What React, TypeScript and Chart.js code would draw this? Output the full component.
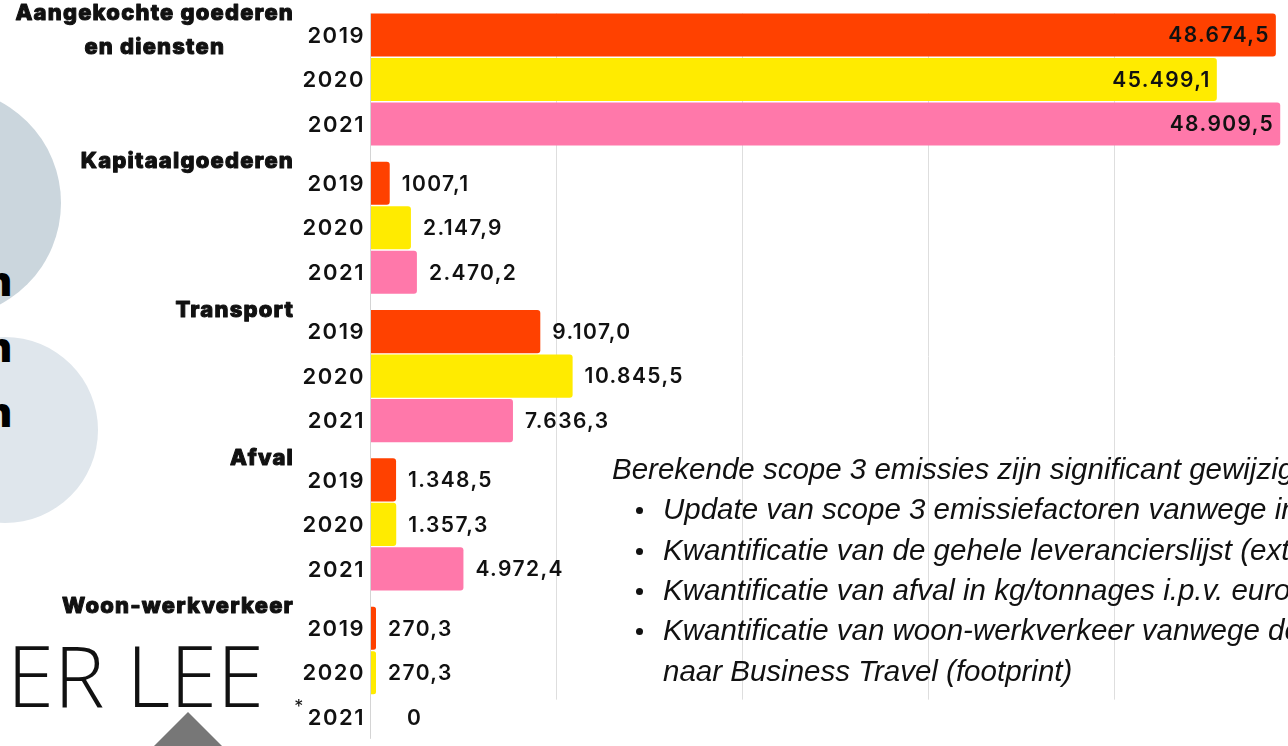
import React, { useEffect, useRef } from "react";
import { Chart, registerables } from "chart.js";

Chart.register(...registerables);

const categories: string[][] = [
  ["Aangekochte goederen", "en diensten"],
  ["Kapitaalgoederen"],
  ["Transport"],
  ["Afval"],
  ["Woon-werkverkeer"],
];
const years = ["2019", "2020", "2021"];
const values2019 = [48674.5, 1007.1, 9107.0, 1348.5, 270.3];
const values2020 = [45499.1, 2147.9, 10845.5, 1357.3, 270.3];
const values2021 = [48909.5, 2470.2, 7636.3, 4972.4, 0];
const labels2019 = ["48.674,5", "1007,1", "9.107,0", "1.348,5", "270,3"];
const labels2020 = ["45.499,1", "2.147,9", "10.845,5", "1.357,3", "270,3"];
const labels2021 = ["48.909,5", "2.470,2", "7.636,3", "4.972,4", "0"];
const footnote2021 = ["", "", "", "", "*"];
const xMin = 0;
const xMax = 50000;
const xStep = 10000;

const noteTitle = "Berekende scope 3 emissies zijn significant gewijzigd door:";
const noteBullets: string[][] = [
  ["Update van scope 3 emissiefactoren vanwege inflatie"],
  ["Kwantificatie van de gehele leverancierslijst (extra leveranciers)"],
  ["Kwantificatie van afval in kg/tonnages i.p.v. euro's"],
  ["Kwantificatie van woon-werkverkeer vanwege de verschuiving", "naar Business Travel (footprint)"],
];

const COLORS = ["#FF4100", "#FFEB00", "#FF78AA"];
const NUM_FONT = "Inter, 'Noto Sans', sans-serif";

const valueLabels = [labels2019, labels2020, labels2021];

const overlayPlugin = {
  id: "overlay",
  beforeDatasetsDraw(chart: any) {
    const ctx = chart.ctx;
    const metas = [0, 1, 2].map((i) => chart.getDatasetMeta(i));
    const first = metas[0].data[0];
    const last = metas[2].data[metas[2].data.length - 1];
    const top = first.y - first.height / 2;
    const gridBottom = last.y - last.height / 2 + 4;
    const axisBottom = last.y + last.height / 2;
    const xs = chart.scales.x;
    ctx.save();
    ctx.lineWidth = 1;
    ctx.strokeStyle = "#dedede";
    xs.ticks.forEach((t: any) => {
      if (t.value === 0) return;
      const px = Math.floor(xs.getPixelForValue(t.value)) + 0.5;
      ctx.beginPath();
      ctx.moveTo(px, top);
      ctx.lineTo(px, gridBottom);
      ctx.stroke();
    });
    const ax = Math.floor(xs.getPixelForValue(0)) - 0.5;
    ctx.strokeStyle = "#d4d4d4";
    ctx.beginPath();
    ctx.moveTo(ax, top);
    ctx.lineTo(ax, axisBottom);
    ctx.stroke();
    ctx.restore();
  },
  afterDatasetsDraw(chart: any) {
    const ctx = chart.ctx;
    const metas = [0, 1, 2].map((i) => chart.getDatasetMeta(i));
    const left = chart.chartArea.left;
    ctx.save();
    ctx.fillStyle = "#111";
    ctx.strokeStyle = "#111";
    ctx.lineJoin = "round";
    ctx.textBaseline = "middle";

    // year labels
    ctx.font = `600 22px ${NUM_FONT}`;
    (ctx as any).letterSpacing = "1.5px";
    ctx.textAlign = "right";
    categories.forEach((_, j) => {
      metas.forEach((m, i) => {
        const bar = m.data[j];
        const x = left - 6;
        ctx.fillText(years[i], x, bar.y + 1);
        if (i === 2 && footnote2021[j]) {
          const w = ctx.measureText(years[i]).width;
          ctx.save();
          ctx.font = `400 18px ${NUM_FONT}`;
          ctx.fillText(footnote2021[j], x - w - 3, bar.y - 10);
          ctx.restore();
        }
      });
    });

    // value labels
    ctx.font = `600 21px ${NUM_FONT}`;
    (ctx as any).letterSpacing = "1.4px";
    metas.forEach((m, i) => {
      m.data.forEach((bar: any, j: number) => {
        const v = chart.data.datasets[i].data[j];
        const len = bar.x - bar.base;
        const label = valueLabels[i][j];
        let x: number;
        if (len > 400) {
          ctx.textAlign = "right";
          x = bar.x - 6;
        } else {
          ctx.textAlign = "left";
          x = bar.x + (v === 0 ? 36 : 12);
        }
        ctx.fillText(label, x, bar.y + 1);
      });
    });

    // group labels
    ctx.font = `800 22px ${NUM_FONT}`;
    (ctx as any).letterSpacing = "1.2px";
    ctx.textAlign = "center";
    ctx.lineWidth = 1;
    const right = left - 77;
    categories.forEach((lines, j) => {
      const bar = metas[0].data[j];
      const top = bar.y - bar.height / 2;
      const maxW = Math.max(...lines.map((l) => ctx.measureText(l).width));
      const cx = right - maxW / 2;
      lines.forEach((l, k) => {
        ctx.fillText(l, cx, top + k * 34);
        ctx.strokeText(l, cx, top + k * 34);
      });
    });
    (ctx as any).letterSpacing = "0px";
    ctx.restore();
  },
};

export default function App() {
  const ref = useRef<HTMLCanvasElement | null>(null);

  useEffect(() => {
    if (!ref.current) return;
    const W = 1320;
    const H = 760;
    const chart = new Chart(ref.current, {
      type: "bar",
      data: {
        labels: categories.map((c) => c.join(" ")),
        datasets: [values2019, values2020, values2021].map((d, i) => ({
          label: years[i],
          data: d,
          backgroundColor: COLORS[i],
          borderWidth: 0,
          borderRadius: 3,
          categoryPercentage: 0.9,
          barPercentage: 0.97,
        })),
      },
      options: {
        indexAxis: "y",
        responsive: false,
        maintainAspectRatio: false,
        animation: false,
        layout: {
          padding: { left: 371, top: 5.3, right: W - 1300.5, bottom: H - 746.9 },
        },
        scales: {
          x: {
            display: false,
            min: xMin,
            max: xMax,
            ticks: { stepSize: xStep },
          },
          y: { display: false },
        },
        plugins: {
          legend: { display: false },
          tooltip: { enabled: false },
        },
      },
      plugins: [overlayPlugin],
    });
    return () => chart.destroy();
  }, []);

  const lineH = 40.3;
  const noteTop = 449;
  return (
    <div
      style={{
        position: "fixed",
        left: 0,
        top: 0,
        width: 1288,
        height: 746,
        overflow: "hidden",
        background: "#fff",
      }}
    >
      <div style={{ position: "absolute", left: -169, top: 88, width: 230, height: 230, borderRadius: "50%", background: "#CBD6DD" }} />
      <div style={{ position: "absolute", left: -88, top: 337, width: 186, height: 186, borderRadius: "50%", background: "#DFE6EC" }} />
      {[260, 326, 391].map((t) => (
        <div
          key={t}
          style={{
            position: "absolute",
            left: -15,
            top: t,
            font: "800 41px 'Open Sans', sans-serif",
            lineHeight: "41px",
            color: "#000",
          }}
        >
          n
        </div>
      ))}
      <div
        style={{
          position: "absolute",
          right: 1288 - 264,
          top: 632,
          font: "330 85px 'Open Sans', sans-serif",
          lineHeight: "85px",
          color: "#111",
          whiteSpace: "nowrap",
        }}
      >
        ER LEE
      </div>
      <svg style={{ position: "absolute", left: 0, top: 0 }} width={1288} height={746}>
        <polygon points="188,712 226,750 150,750" fill="#777" />
      </svg>
      <canvas ref={ref} width={1320} height={760} style={{ position: "absolute", left: 0, top: 0, width: 1320, height: 760 }} />
      <div
        style={{
          position: "absolute",
          left: 612,
          top: noteTop,
          font: "italic 400 29.5px 'Liberation Sans', Arial, sans-serif",
          lineHeight: `${lineH}px`,
          color: "#111",
          whiteSpace: "nowrap",
        }}
      >
        {noteTitle}
      </div>
      {noteBullets.map((lines, i) => {
        const before = noteBullets.slice(0, i).reduce((a, l) => a + l.length, 0);
        return (
          <React.Fragment key={i}>
            <div
              style={{
                position: "absolute",
                left: 636,
                top: noteTop + (1 + before) * lineH + lineH / 2 - 2,
                width: 7,
                height: 7,
                borderRadius: "50%",
                background: "#111",
              }}
            />
            {lines.map((l, k) => (
              <div
                key={k}
                style={{
                  position: "absolute",
                  left: 663,
                  top: noteTop + (1 + before + k) * lineH,
                  font: "italic 400 29.5px 'Liberation Sans', Arial, sans-serif",
                  lineHeight: `${lineH}px`,
                  color: "#111",
                  whiteSpace: "nowrap",
                }}
              >
                {l}
              </div>
            ))}
          </React.Fragment>
        );
      })}
    </div>
  );
}
